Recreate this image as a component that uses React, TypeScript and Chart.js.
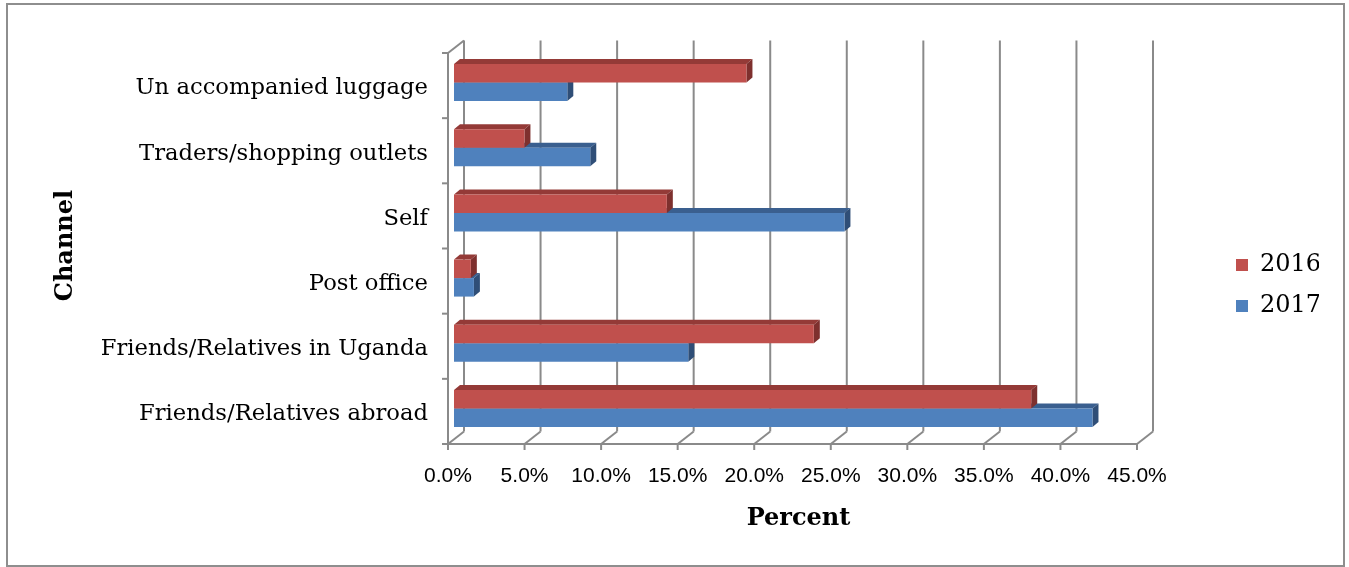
import React, { useEffect, useRef } from 'react';
import { Chart, registerables } from 'chart.js';

Chart.register(...registerables);

// ---- data ----
const categories = [
  'Un accompanied luggage',
  'Traders/shopping outlets',
  'Self',
  'Post office',
  'Friends/Relatives in Uganda',
  'Friends/Relatives abroad',
];
const seriesNames = ['2016', '2017'];
const values2016 = [19.1, 4.6, 13.9, 1.1, 23.5, 37.7];
const values2017 = [7.4, 8.9, 25.5, 1.3, 15.3, 41.7];
const xMin = 0;
const xMax = 45;
const xStep = 5;
const xTitle = 'Percent';
const yTitle = 'Channel';

// ---- style ----
const SERIF = "'DejaVu Serif', serif";
const SANS = "'Liberation Sans Narrow', 'Liberation Sans', sans-serif";
const RED = '#C0504D';
const BLUE = '#4F81BD';
const FACES = [
  { top: '#943a37', side: '#7e302e' },
  { top: '#3a5f8f', side: '#2f4e77' },
];
const GRID = '#8a8a8a';
const FRONT = { dx: -6, dy: 3 };
const BACK = { dx: 10, dy: -9.5 };
const DEPTH = { dx: 6, dy: 5 };
const LEGEND_ITEM_X = 1236;
const LEGEND_SHIFT_Y = -7;

const wallsPlugin = {
  id: 'walls3d',
  beforeDatasetsDraw(chart: any) {
    const { ctx, chartArea: ca } = chart;
    const xs = chart.scales.x;
    ctx.save();
    ctx.strokeStyle = GRID;
    ctx.lineWidth = 2;
    const line = (x1: number, y1: number, x2: number, y2: number) => {
      ctx.beginPath();
      ctx.moveTo(x1, y1);
      ctx.lineTo(x2, y2);
      ctx.stroke();
    };
    const x0 = xs.getPixelForValue(xMin);
    const xEnd = xs.getPixelForValue(xMax);
    xs.ticks.forEach((t: any) => {
      const px = xs.getPixelForValue(t.value);
      line(px + BACK.dx, ca.top + BACK.dy, px + BACK.dx, ca.bottom + BACK.dy);
      line(px + FRONT.dx, ca.bottom + FRONT.dy, px + BACK.dx, ca.bottom + BACK.dy);
      line(px + FRONT.dx, ca.bottom + FRONT.dy, px + FRONT.dx, ca.bottom + FRONT.dy + 6);
    });
    line(x0 + FRONT.dx - 6, ca.bottom + FRONT.dy, xEnd + FRONT.dx, ca.bottom + FRONT.dy);
    line(x0 + FRONT.dx, ca.top + FRONT.dy, x0 + FRONT.dx, ca.bottom + FRONT.dy + 6);
    line(x0 + FRONT.dx, ca.top + FRONT.dy, x0 + BACK.dx, ca.top + BACK.dy);
    const n = categories.length;
    for (let i = 0; i <= n; i++) {
      const yy = ca.top + (i * (ca.bottom - ca.top)) / n + FRONT.dy;
      line(x0 + FRONT.dx - 6, yy, x0 + FRONT.dx, yy);
    }
    // 3D side faces of bars (blue first, red after)
    for (const di of [1, 0]) {
      const meta = chart.getDatasetMeta(di);
      meta.data.forEach((el: any) => {
        const { x: xe, y: yc, base, height } = el.getProps(['x', 'y', 'base', 'height'], true);
        const t = yc - height / 2;
        const b = yc + height / 2;
        ctx.fillStyle = FACES[di].top;
        ctx.beginPath();
        ctx.moveTo(base, t);
        ctx.lineTo(base + DEPTH.dx, t - DEPTH.dy);
        ctx.lineTo(xe + DEPTH.dx, t - DEPTH.dy);
        ctx.lineTo(xe, t);
        ctx.closePath();
        ctx.fill();
        ctx.fillStyle = FACES[di].side;
        ctx.beginPath();
        ctx.moveTo(xe, t);
        ctx.lineTo(xe + DEPTH.dx, t - DEPTH.dy);
        ctx.lineTo(xe + DEPTH.dx, b - DEPTH.dy);
        ctx.lineTo(xe, b);
        ctx.closePath();
        ctx.fill();
      });
    }
    ctx.restore();
  },
};

const legendPlacePlugin = {
  id: 'legendPlace',
  afterLayout(chart: any) {
    const lg = chart.legend;
    if (!lg) return;
    const pad = lg.options.labels.padding;
    const dx = LEGEND_ITEM_X - (lg.left + pad);
    lg.left += dx;
    lg.right += dx;
    lg.top += LEGEND_SHIFT_Y;
    lg.bottom += LEGEND_SHIFT_Y;
  },
};

export default function App() {
  const ref = useRef<HTMLCanvasElement>(null);
  useEffect(() => {
    if (!ref.current) return;
    const chart = new Chart(ref.current, {
      type: 'bar',
      data: {
        labels: categories,
        datasets: [
          { label: seriesNames[0], data: values2016, backgroundColor: RED, borderWidth: 0 },
          { label: seriesNames[1], data: values2017, backgroundColor: BLUE, borderWidth: 0 },
        ],
      },
      options: {
        responsive: false,
        animation: false,
        indexAxis: 'y',
        layout: { padding: { left: 51, top: 50, right: 106, bottom: 32 } },
        datasets: { bar: { categoryPercentage: 0.568, barPercentage: 1 } },
        plugins: {
          legend: {
            position: 'right',
            maxWidth: 100,
            labels: {
              boxWidth: 12,
              boxHeight: 12,
              padding: 17,
              color: '#000',
              font: { family: SERIF, size: 24 },
            },
          },
          tooltip: { enabled: false },
        },
        scales: {
          x: {
            type: 'linear',
            min: xMin,
            max: xMax,
            grid: { display: false },
            border: { display: false },
            ticks: {
              stepSize: xStep,
              labelOffset: FRONT.dx,
              padding: 15,
              maxRotation: 0,
              autoSkip: false,
              color: '#000',
              font: { family: SANS, size: 21 },
              callback: (v: any) => Number(v).toFixed(1) + '%',
            },
            title: {
              display: true,
              text: xTitle,
              color: '#000',
              font: { family: SERIF, size: 24, weight: 'bold' },
              padding: { top: 10, bottom: 2 },
            },
            afterFit: (s: any) => {
              s.height = 94;
            },
          },
          y: {
            grid: { display: false },
            border: { display: false },
            ticks: {
              labelOffset: 6,
              padding: 18,
              color: '#000',
              font: { family: SERIF, size: 22.7 },
            },
            title: {
              display: true,
              text: yTitle,
              color: '#000',
              font: { family: SERIF, size: 24, weight: 'bold' },
              padding: 0,
            },
            afterFit: (s: any) => {
              s.width = 454 - 51;
            },
          },
        },
      },
      plugins: [wallsPlugin, legendPlacePlugin],
    } as any);
    return () => chart.destroy();
  }, []);
  return (
    <div style={{ position: 'fixed', left: 0, top: 0, width: 1349, height: 567, background: '#fff' }}>
      <canvas
        ref={ref}
        width={1349}
        height={567}
        style={{ position: 'absolute', left: 0, top: 0, width: 1349, height: 567 }}
      />
      <div
        style={{
          position: 'absolute',
          left: 6,
          top: 3,
          width: 1339,
          height: 564,
          boxSizing: 'border-box',
          border: '2px solid #8e8e8e',
          pointerEvents: 'none',
        }}
      />
    </div>
  );
}
